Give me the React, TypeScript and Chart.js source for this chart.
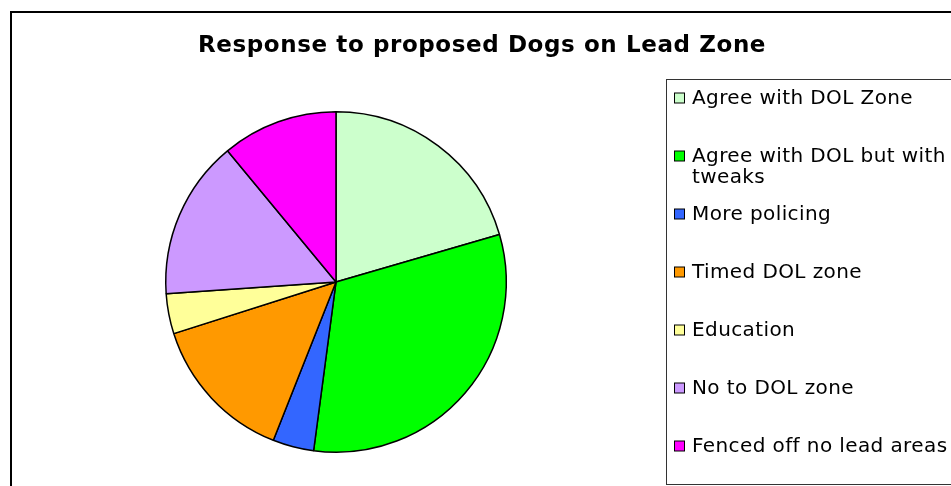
import React, { useEffect, useRef } from "react";
import { Chart, registerables } from "chart.js";

Chart.register(...registerables);

const TITLE = "Response to proposed Dogs on Lead Zone";
const categories = [
  "Agree with DOL Zone",
  "Agree with DOL but with tweaks",
  "More policing",
  "Timed DOL zone",
  "Education",
  "No to DOL zone",
  "Fenced off no lead areas",
];
const responses = [20.5, 31.6, 3.9, 14.1, 3.8, 15.1, 11.0];
const colors = ["#CCFFCC", "#00FF00", "#3366FF", "#FF9900", "#FFFF99", "#CC99FF", "#FF00FF"];

const FONT = "DejaVu Sans, Verdana, sans-serif";

const decorPlugin = {
  id: "decor",
  afterDraw(chart: any) {
    const ctx = chart.ctx as CanvasRenderingContext2D;
    ctx.save();
    // outer frame
    ctx.strokeStyle = "#000";
    ctx.lineWidth = 2;
    ctx.strokeRect(11, 12, 960, 500);
    // title
    ctx.fillStyle = "#000";
    ctx.font = `bold 23px ${FONT}`;
    (ctx as any).letterSpacing = "0.6px";
    ctx.textAlign = "center";
    ctx.textBaseline = "alphabetic";
    ctx.fillText(TITLE, 482, 52);
    // legend box
    ctx.lineWidth = 1;
    ctx.strokeStyle = "#333";
    ctx.strokeRect(666.5, 79.5, 400, 405);
    // legend items
    const labels: string[] = chart.data.labels;
    const bg: string[] = chart.data.datasets[0].backgroundColor;
    ctx.font = `20px ${FONT}`;
    (ctx as any).letterSpacing = "0.4px";
    ctx.textAlign = "left";
    ctx.textBaseline = "middle";
    const maxW = 262;
    labels.forEach((label, i) => {
      const words = label.split(" ");
      const lines: string[] = [];
      let cur = "";
      words.forEach((w) => {
        const test = cur ? cur + " " + w : w;
        if (ctx.measureText(test).width > maxW && cur) {
          lines.push(cur);
          cur = w;
        } else cur = test;
      });
      if (cur) lines.push(cur);
      const y = 98 + i * 58;
      ctx.fillStyle = bg[i];
      ctx.fillRect(674.5, y - 5, 10, 10);
      ctx.strokeStyle = "#000";
      ctx.lineWidth = 1;
      ctx.strokeRect(674.5, y - 5, 10, 10);
      ctx.fillStyle = "#000";
      lines.forEach((ln, k) => ctx.fillText(ln, 692, y + 1 + k * 21));
    });
    ctx.restore();
  },
};

export default function App() {
  const ref = useRef<HTMLCanvasElement>(null);
  useEffect(() => {
    document.body.style.margin = "0";
    const chart = new Chart(ref.current!, {
      type: "pie",
      data: {
        labels: categories,
        datasets: [
          {
            data: responses,
            backgroundColor: colors,
            borderColor: "#000",
            borderWidth: 1.5,
          },
        ],
      },
      options: {
        animation: false,
        responsive: false,
        maintainAspectRatio: false,
        layout: { padding: { left: 165, top: 111, right: 444, bottom: 33 } },
        plugins: {
          legend: { display: false },
          title: { display: false },
          tooltip: { enabled: false },
        },
      },
      plugins: [decorPlugin],
    });
    return () => chart.destroy();
  }, []);
  return (
    <div style={{ width: 951, height: 486, background: "#fff" }}>
      <canvas ref={ref} width={951} height={486} style={{ display: "block" }} />
    </div>
  );
}
